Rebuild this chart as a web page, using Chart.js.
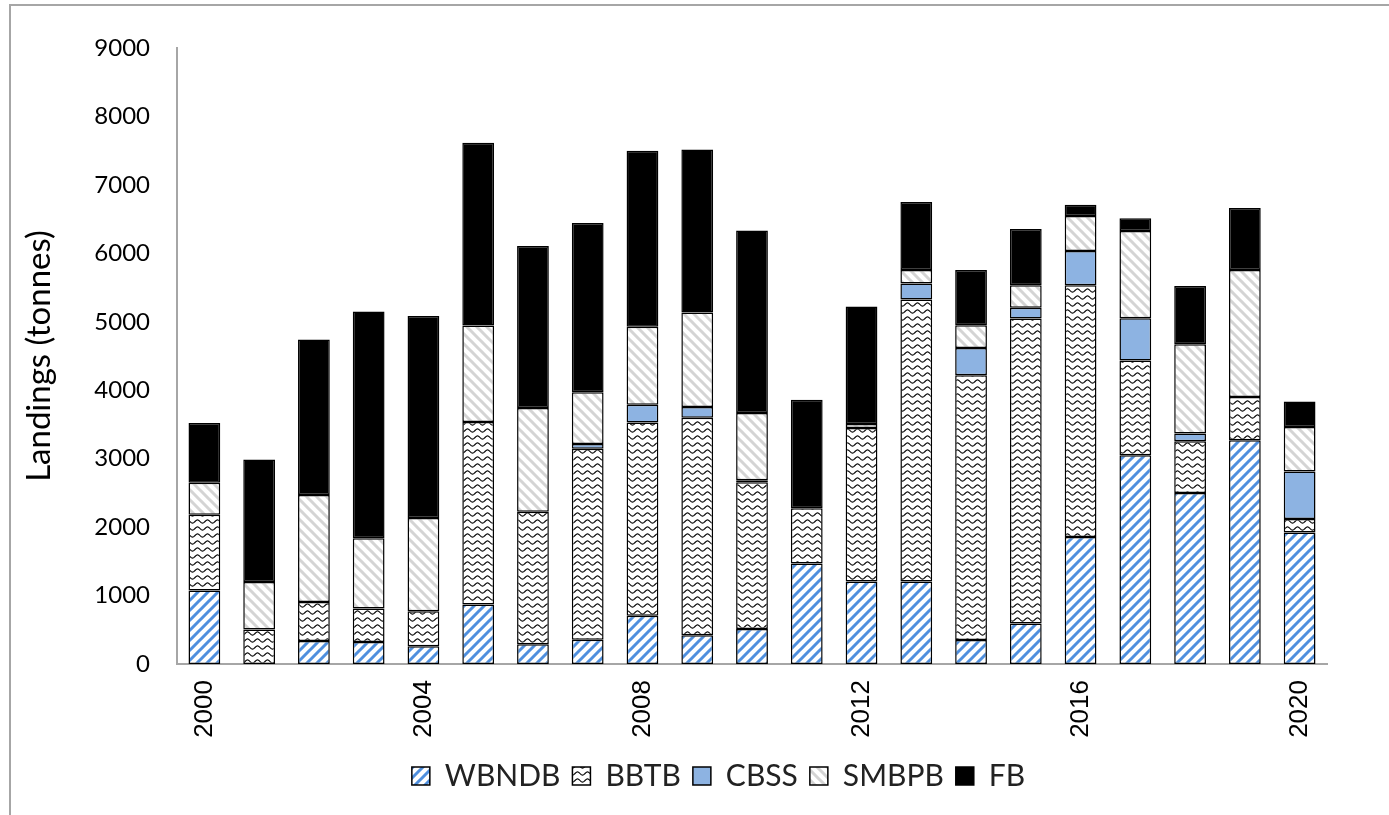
<!DOCTYPE html>
<html>
<head>
<meta charset="utf-8">
<script src="https://cdn.jsdelivr.net/npm/chart.js@4.4.0/dist/chart.umd.min.js"></script>
<style>
  html, body { margin: 0; padding: 0; background: #fff; overflow: hidden; }
  #frame {
    position: absolute; left: 9px; top: 4px; width: 1500px; height: 900px;
    border: 2px solid #a6a6a6; box-sizing: border-box;
  }
  #wrap { position: absolute; left: 0; top: 0; width: 1389px; height: 815px; }
</style>
</head>
<body>
<div id="frame"></div>
<div id="wrap"><canvas id="chart"></canvas></div>
<script>
// ===== DATA =====
const years = ["2000","2001","2002","2003","2004","2005","2006","2007","2008","2009","2010",
               "2011","2012","2013","2014","2015","2016","2017","2018","2019","2020"];

const wbndb = [1075, 0, 335, 320, 260, 870, 290, 355, 705, 420, 512, 1470, 1205, 1205, 350, 590, 1855, 3050, 2500, 3270, 1920];
const bbtb  = [1107, 505, 570, 492, 510, 2665, 1934, 2791, 2822, 3177, 2143, 805, 2244, 4122, 3868, 4459, 3678, 1385, 756, 630, 200];
const cbss  = [0, 0, 0, 0, 0, 0, 0, 68, 262, 157, 30, 0, 0, 234, 400, 156, 502, 615, 112, 0, 693];
const smbpb = [466, 694, 1563, 1024, 1363, 1409, 1516, 758, 1139, 1380, 984, 0, 58, 195, 332, 327, 512, 1278, 1302, 1858, 648];
const fb    = [873, 1788, 2273, 3315, 2951, 2673, 2367, 2472, 2571, 2383, 2665, 1587, 1717, 995, 805, 824, 161, 185, 854, 903, 376];

const seriesNames = ["WBNDB", "BBTB", "CBSS", "SMBPB", "FB"];

// ===== PATTERNS =====
function makePattern(w, h, draw) {
  const c = document.createElement("canvas");
  c.width = w; c.height = h;
  const g = c.getContext("2d");
  g.fillStyle = "#fff";
  g.fillRect(0, 0, w, h);
  draw(g, w, h);
  return g.createPattern(c, "repeat");
}

// blue "/" stripes
const bluePattern = makePattern(10, 10, (g, s) => {
  g.strokeStyle = "#4f8fde";
  g.lineWidth = 3;
  g.beginPath();
  g.moveTo(-5, s + 5); g.lineTo(s + 5, -5);
  g.moveTo(-5, 5); g.lineTo(5, -5);
  g.moveTo(s - 5, s + 5); g.lineTo(s + 5, s - 5);
  g.stroke();
});

// grey "\" stripes
const greyPattern = makePattern(10, 10, (g, s) => {
  g.strokeStyle = "#d4d4d4";
  g.lineWidth = 3;
  g.beginPath();
  g.moveTo(-5, -5); g.lineTo(s + 5, s + 5);
  g.moveTo(-5, 5); g.lineTo(5, s + 5);
  g.moveTo(s - 5, -5); g.lineTo(s + 5, 5);
  g.stroke();
});

// black waves
const wavePattern = makePattern(10, 7, (g, w, h) => {
  g.strokeStyle = "#000";
  g.lineWidth = 1.1;
  g.beginPath();
  for (let x = 0; x <= w; x += 0.5) {
    const y = 3.5 + 1.6 * Math.sin((x / w) * Math.PI * 2);
    if (x === 0) g.moveTo(x, y); else g.lineTo(x, y);
  }
  g.stroke();
});

const fills = [bluePattern, wavePattern, "#8db3e2", greyPattern, "#000"];
const values = [wbndb, bbtb, cbss, smbpb, fb];

const datasets = seriesNames.map((name, i) => ({
  label: name,
  data: values[i],
  backgroundColor: fills[i],
  borderColor: "#000",
  borderWidth: 1.5,
  borderSkipped: false,
  barPercentage: 0.58,
  categoryPercentage: 1
}));

// nudge the legend to the right, as in the original
const legendShift = {
  id: "legendShift",
  afterLayout(chart) {
    if (chart.legend) chart.legend.left += 110;
  }
};

// ===== CHART =====
const canvas = document.getElementById("chart");
canvas.width = 1389;
canvas.height = 815;

const chart = new Chart(canvas.getContext("2d"), {
  type: "bar",
  data: { labels: years, datasets: datasets },
  plugins: [legendShift],
  options: {
    responsive: false,
    animation: false,
    layout: { padding: { left: 0, right: 62, top: 48, bottom: 14 } },
    plugins: {
      tooltip: { enabled: false },
      legend: {
        position: "bottom",
        labels: {
          font: { family: "Lato", size: 30 },
          color: "#222",
          boxWidth: 18,
          boxHeight: 18,
          padding: 12
        }
      }
    },
    scales: {
      x: {
        stacked: true,
        grid: { display: false, drawTicks: false },
        border: { display: true, color: "#a6a6a6", width: 2 },
        ticks: {
          autoSkip: false,
          maxRotation: 90,
          minRotation: 90,
          padding: 16,
          color: "#000",
          font: { family: "Liberation Sans", size: 26 },
          callback: (v, i) => (Number(years[i]) % 4 === 0 ? years[i] : "")
        },
        afterFit: (s) => { s.height = 85; }
      },
      y: {
        stacked: true,
        min: 0,
        max: 9000,
        grid: { display: false, drawTicks: false },
        border: { display: true, color: "#a6a6a6", width: 2 },
        ticks: {
          stepSize: 1000,
          padding: 27,
          color: "#000",
          font: { family: "Lato", size: 24 },
          callback: (v) => String(v)
        },
        title: {
          display: true,
          text: "Landings (tonnes)",
          color: "#000",
          font: { family: "Lato", size: 33 },
          padding: { top: 20, bottom: 0 }
        },
        afterFit: (s) => { s.width = 177; }
      }
    }
  }
});
</script>
</body>
</html>
